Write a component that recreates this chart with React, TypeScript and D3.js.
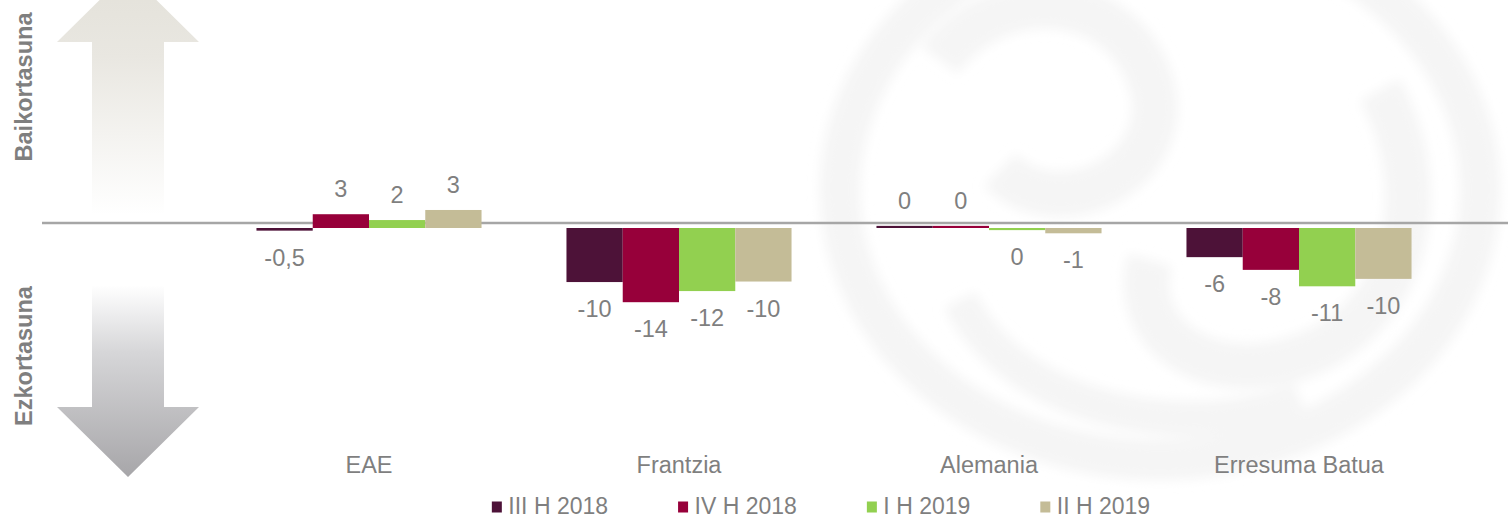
import React, { useEffect, useRef } from "react";
import * as d3 from "d3";

const categories = ["EAE", "Frantzia", "Alemania", "Erresuma Batua"];
const seriesNames = ["III H 2018", "IV H 2018", "I H 2019", "II H 2019"];
const seriesColors = ["#4d1238", "#97003a", "#92d050", "#c4bc97"];

const valuesIII2018 = [-0.5, -10.2, 0.4, -5.5];
const valuesIV2018 = [2.6, -14, 0.4, -7.9];
const valuesI2019 = [1.5, -11.9, -0.4, -11];
const valuesII2019 = [3.4, -10.1, -1, -9.6];

const labelsIII2018 = ["-0,5", "-10", "0", "-6"];
const labelsIV2018 = ["3", "-14", "0", "-8"];
const labelsI2019 = ["2", "-12", "0", "-11"];
const labelsII2019 = ["3", "-10", "-1", "-10"];

const upLabel = "Baikortasuna";
const downLabel = "Ezkortasuna";

const W = 1508;
const H = 519;
const FONT = "'Liberation Sans', Arial, Helvetica, sans-serif";
const TEXT = "#7f7f7f";

export default function App() {
  const ref = useRef<SVGSVGElement | null>(null);

  useEffect(() => {
    document.body.style.margin = "0";
    document.body.style.overflow = "hidden";
    const svg = d3.select(ref.current);
    svg.selectAll("*").remove();

    const series = [
      { name: seriesNames[0], color: seriesColors[0], values: valuesIII2018, labels: labelsIII2018 },
      { name: seriesNames[1], color: seriesColors[1], values: valuesIV2018, labels: labelsIV2018 },
      { name: seriesNames[2], color: seriesColors[2], values: valuesI2019, labels: labelsI2019 },
      { name: seriesNames[3], color: seriesColors[3], values: valuesII2019, labels: labelsII2019 },
    ];

    const x0 = d3.scaleBand<string>().domain(categories).range([214, 1454]).paddingInner(0.274).paddingOuter(0.137);
    const x1 = d3.scaleBand<string>().domain(seriesNames).range([0, x0.bandwidth()]);
    const y = d3.scaleLinear().domain([-20, 20]).range([228 + 106, 228 - 106]);

    const defs = svg.append("defs");
    const gUp = defs.append("linearGradient").attr("id", "gUp").attr("x1", 0).attr("y1", 0).attr("x2", 0).attr("y2", 1);
    gUp.append("stop").attr("offset", "0").attr("stop-color", "#e3e1d9");
    gUp.append("stop").attr("offset", "0.35").attr("stop-color", "#e9e7e1");
    gUp.append("stop").attr("offset", "1").attr("stop-color", "#ffffff");
    const gDown = defs.append("linearGradient").attr("id", "gDown").attr("x1", 0).attr("y1", 0).attr("x2", 0).attr("y2", 1);
    gDown.append("stop").attr("offset", "0").attr("stop-color", "#ffffff");
    gDown.append("stop").attr("offset", "0.35").attr("stop-color", "#d6d6d8");
    gDown.append("stop").attr("offset", "1").attr("stop-color", "#a7a6a9");
    const blur = defs.append("filter").attr("id", "wmBlur").attr("x", "-20%").attr("y", "-20%").attr("width", "140%").attr("height", "140%");
    blur.append("feGaussianBlur").attr("stdDeviation", 6);

    // faint watermark
    const wm = svg.append("g").attr("fill", "none").attr("stroke", "#f5f5f5").attr("filter", "url(#wmBlur)");
    wm.append("ellipse").attr("cx", 1160).attr("cy", 190).attr("rx", 320).attr("ry", 270).attr("stroke-width", 40);
    wm.append("path").attr("d", "M940,60 C1000,-20 1120,-10 1150,80 C1180,170 1060,230 1000,170").attr("stroke-width", 45);
    wm.append("path").attr("d", "M1380,90 C1440,200 1400,330 1290,360 C1200,385 1130,330 1150,260").attr("stroke-width", 45);
    wm.append("path").attr("d", "M960,300 C1020,420 1200,440 1300,400").attr("stroke-width", 35);

    // arrows
    const ax = 128;
    const shaftHalf = 36;
    const headHalf = 71;
    svg.append("path")
      .attr("d", `M${ax},-28 L${ax + headHalf},42 L${ax + shaftHalf},42 L${ax + shaftHalf},215 L${ax - shaftHalf},215 L${ax - shaftHalf},42 L${ax - headHalf},42 Z`)
      .attr("fill", "url(#gUp)");
    svg.append("path")
      .attr("d", `M${ax - shaftHalf},285 L${ax + shaftHalf},285 L${ax + shaftHalf},407 L${ax + headHalf},407 L${ax},477 L${ax - headHalf},407 L${ax - shaftHalf},407 Z`)
      .attr("fill", "url(#gDown)");

    svg.append("text")
      .attr("transform", `translate(32,87) rotate(-90)`)
      .attr("text-anchor", "middle")
      .attr("font-family", FONT).attr("font-weight", "bold").attr("font-size", 23.5)
      .attr("fill", TEXT).text(upLabel);
    svg.append("text")
      .attr("transform", `translate(32,356) rotate(-90)`)
      .attr("text-anchor", "middle")
      .attr("font-family", FONT).attr("font-weight", "bold").attr("font-size", 23.5)
      .attr("fill", TEXT).text(downLabel);

    // axis line
    svg.append("line")
      .attr("x1", 42).attr("x2", W)
      .attr("y1", y(0) - 5).attr("y2", y(0) - 5)
      .attr("stroke", "#a6a6a6").attr("stroke-width", 2.5);

    // bars
    series.forEach((s) => {
      const g = svg.append("g");
      categories.forEach((c, i) => {
        const v = s.values[i];
        const xb = (x0(c) as number) + (x1(s.name) as number);
        g.append("rect")
          .attr("x", xb)
          .attr("y", Math.min(y(v), y(0)))
          .attr("width", x1.bandwidth())
          .attr("height", Math.abs(y(v) - y(0)))
          .attr("fill", s.color);
        g.append("text")
          .attr("x", xb + x1.bandwidth() / 2)
          .attr("y", v >= 0 ? y(v) - 17 : y(v) + 35)
          .attr("text-anchor", "middle")
          .attr("font-family", FONT).attr("font-size", 23.5)
          .attr("fill", TEXT)
          .text(s.labels[i]);
      });
    });

    // category labels
    categories.forEach((c) => {
      svg.append("text")
        .attr("x", (x0(c) as number) + x0.bandwidth() / 2)
        .attr("y", 473)
        .attr("text-anchor", "middle")
        .attr("font-family", FONT).attr("font-size", 23.5)
        .attr("fill", TEXT)
        .text(c);
    });

    // legend
    const lg = svg.append("g");
    let cx = 0;
    series.forEach((s) => {
      const item = lg.append("g").attr("transform", `translate(${cx},0)`);
      item.append("rect").attr("x", 0).attr("y", 501.5).attr("width", 10).attr("height", 11).attr("fill", s.color);
      const t = item.append("text").attr("x", 16.5).attr("y", 514)
        .attr("font-family", FONT).attr("font-size", 23).attr("fill", TEXT).text(s.name);
      const tw = (t.node() as SVGTextElement).getComputedTextLength();
      cx += 16.5 + tw + 70;
    });
    const total = cx - 70;
    lg.attr("transform", `translate(${821 - total / 2},0)`);
  }, []);

  return (
    <svg ref={ref} width={W} height={H} style={{ position: "absolute", left: 0, top: 0, background: "#fff" }} />
  );
}
